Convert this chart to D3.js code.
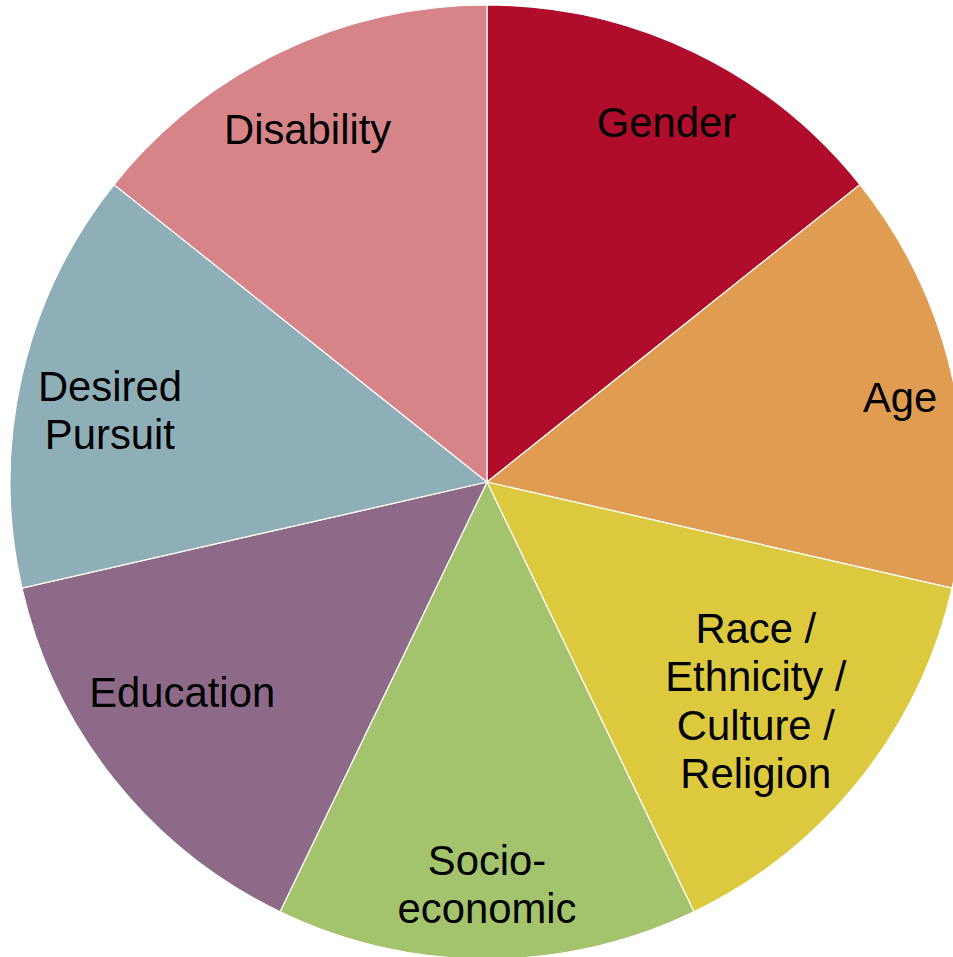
<!DOCTYPE html>
<html>
<head>
<meta charset="utf-8">
<script src="https://cdn.jsdelivr.net/npm/d3@7"></script>
<style>
  html, body { margin: 0; padding: 0; background: #ffffff; overflow: hidden; }
  svg { display: block; }
</style>
</head>
<body>
<svg id="chart" width="953" height="957"></svg>
<script>
// ---- Data ----
const categories = [
  ["Gender"],
  ["Age"],
  ["Race /", "Ethnicity /", "Culture /", "Religion"],
  ["Socio-", "economic"],
  ["Education"],
  ["Desired", "Pursuit"],
  ["Disability"]
];
const values = [1, 1, 1, 1, 1, 1, 1];
const colors = ["#AF0D2A", "#E09C51", "#DCC93E", "#A3C46C", "#8E6A89", "#8FAFB8", "#D68487"];
// small label nudges (px) relative to the label arc centroid
const labelNudge = [[8, -4], [28, 3], [-40, -28], [0, 7], [4, -36], [8, 16], [-8, 3]];

// ---- Layout ----
const width = 953, height = 957;
const cx = 487, cy = 482, R = 477;
const labelR = 395;
const fontSize = 41.8, lineH = 48.5;

const svg = d3.select("#chart");
const g = svg.append("g").attr("transform", `translate(${cx},${cy})`);

const pie = d3.pie().sort(null).value(d => d);
const arcs = pie(values);
const arc = d3.arc().innerRadius(0).outerRadius(R);
const labelArc = d3.arc().innerRadius(labelR).outerRadius(labelR);

g.selectAll("path.slice")
  .data(arcs)
  .join("path")
  .attr("class", "slice")
  .attr("d", arc)
  .attr("fill", (d, i) => colors[i])
  .attr("stroke", "#ffffff")
  .attr("stroke-width", 1.2);

g.selectAll("text.lbl")
  .data(arcs)
  .join("text")
  .attr("class", "lbl")
  .attr("text-anchor", "middle")
  .attr("font-family", "Liberation Sans, Arial, sans-serif")
  .attr("font-size", fontSize)
  .attr("fill", "#000000")
  .each(function(d, i) {
    const [x0, y0] = labelArc.centroid(d);
    const x = x0 + labelNudge[i][0];
    const y = y0 + labelNudge[i][1];
    const lines = categories[i];
    const first = y - (lines.length - 1) * lineH / 2 + fontSize * 0.36;
    d3.select(this).selectAll("tspan")
      .data(lines)
      .join("tspan")
      .attr("x", x)
      .attr("y", (t, k) => first + k * lineH)
      .text(t => t);
  });
</script>
</body>
</html>
